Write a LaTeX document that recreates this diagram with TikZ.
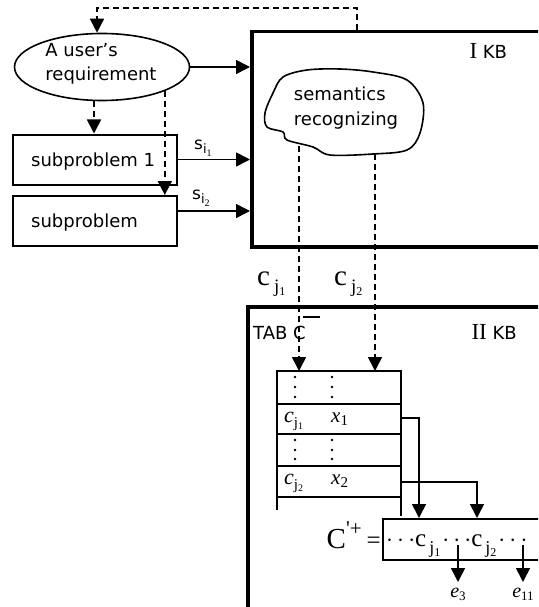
\documentclass[tikz,border=0pt]{standalone}
\usepackage{fontspec}
\setmainfont{DejaVu Sans}
\newfontfamily\tms{Liberation Serif}
\usetikzlibrary{arrows.meta,shapes.geometric}
\newcommand\fsz[1]{\fontsize{#1}{#1}\selectfont}
\newcommand\sil[1]{\fsz{17}s\raisebox{-4pt}{\fsz{13}i\raisebox{-3pt}{\tms\fsz{10}#1}}}
\newcommand\cjb[1]{{\tms\fsz{29}c}\hspace{4pt}\raisebox{-7pt}{\tms\fsz{19}j\raisebox{-3pt}{\fsz{12}#1}}}
\newcommand\cjt[1]{{\tms\fsz{22}\itshape c}\raisebox{-5pt}{\tms\fsz{15}j\raisebox{-2pt}{\fsz{10}#1}}}
\newcommand\xsub[1]{{\tms\fsz{21}\itshape x}\raisebox{-3pt}{\tms\fsz{15}#1}}
\newcommand\cjc[1]{{\tms\fsz{25}c}\hspace{3pt}\raisebox{-7pt}{\tms\fsz{18}j\raisebox{-3pt}{\fsz{12}#1}}}
\begin{document}
\begin{tikzpicture}[x=1pt,y=-1pt,font=\fsz{18},
  tip/.style={-{Triangle[length=14pt,width=14pt]}},
  arr/.style={tip,line width=1.6pt},
  dsh/.style={tip,line width=1.6pt,dash pattern=on 6pt off 4pt},
  kb/.style={draw,line width=3.5pt,inner sep=0pt,anchor=north west},
  spbox/.style={draw,line width=2pt,minimum width=164pt,minimum height=50pt,inner sep=0pt},
  dot/.style={circle,fill,inner sep=0pt,minimum size=2.8pt}]
\clip (0,0) rectangle (538,607);
\fill[white] (0,0) rectangle (538,607);

% knowledge bases
\node[kb,minimum width=320pt,minimum height=215pt] (kb1) at (250,30) {};
\node[kb,minimum width=330pt,minimum height=330pt] (kb2) at (246,305) {};
\node[anchor=base west] (kb1t) at (466,59) {{\tms\fsz{23}I} KB};
\node[anchor=base west] (kb2t) at (468,339) {{\tms\fsz{23}II} KB};

% requirement
\node[ellipse,draw,line width=1.6pt,minimum width=175pt,minimum height=67pt,inner sep=0pt] (req) at (102,67) {};
\node[align=left,inner sep=0pt,font=\fontsize{18}{24}\selectfont] (reqt) at (101,64) {A user’s\\requirement};

% subproblems
\node[spbox] (sp1) at (95,159.5) {};
\node[spbox] (sp2) at (95,221) {};
\node[anchor=base west,inner sep=0pt] (sp1t) at (31,166) {subproblem 1};
\node[anchor=base west,inner sep=0pt] (sp2t) at (31,227) {subproblem};

% cloud
\draw[line width=1.6pt] plot[smooth cycle,tension=0.55] coordinates {
 (283,77) (307,70) (340,69) (373,72) (407,80) (423,103) (420,133) (407,150)
 (373,154) (330,155) (313,147) (287,140) (283,132) (267,127) (265,113) (273,93)};
\node[align=left,inner sep=0pt,font=\fontsize{18}{25}\selectfont] (sem) at (346,108) {semantics\\recognizing};
\coordinate (cl1) at (299,146);
\coordinate (cl2) at (375,154);

% arrows to KB I
\draw[arr] (req.east) -- (req.east -| kb1.west);
\draw[arr] (sp1.east) -- (sp1.east -| kb1.west);
\draw[arr] ([yshift=10pt]sp2.east) -- ([yshift=10pt]sp2.east -| kb1.west);
\node[anchor=base west,inner sep=0pt] (s1) at (194,149) {\sil{1}};
\node[anchor=base west,inner sep=0pt] (s2) at (192,199) {\sil{2}};

% dashed arrows
\draw[dsh] (kb1.north -| 357,0) -- (357,8) -| ([xshift=-5pt]req.north);
\draw[dsh] ([xshift=-8pt]req.south) -- ([xshift=-8pt]req.south |- sp1.north);
\draw[dsh] (req.-21.6) -- (req.-21.6 |- sp2.north);

% table
\coordinate (tnw) at (277,371);
\coordinate (tne) at (401,371);
\draw[line width=1.6pt] (277,510) -- (tnw) -- (tne) -- (401,516);
\foreach \yy in {404,434,466,497} \draw[line width=1.6pt] (277,\yy) -- (401,\yy);
\foreach \xx in {295,332} {
  \foreach \yy in {377,387,397,440,450,459} \node[dot] at (\xx,\yy) {};
}
\node[anchor=base west,inner sep=0pt] (r1a) at (284,422) {\cjt{1}};
\node[anchor=base west,inner sep=0pt] (r1b) at (331,422) {\xsub{1}};
\node[anchor=base west,inner sep=0pt] (r2a) at (284,484) {\cjt{2}};
\node[anchor=base west,inner sep=0pt] (r2b) at (331,484) {\xsub{2}};

% dashed down into table
\draw[dsh] (cl1) -- (cl1 |- tnw);
\draw[dsh] (cl2) -- (cl2 |- tnw);
\node[anchor=base west,inner sep=0pt] (cj1) at (257,285) {\cjb{1}};
\node[anchor=base west,inner sep=0pt] (cj2) at (334,285) {\cjb{2}};

% TAB C
\node[anchor=base west,inner sep=0pt] (tab) at (253,339) {TAB C};
\draw[line width=1.3pt] (303,317) -- (320,317);

% C'+ box
\node[draw,line width=1.8pt,anchor=north west,minimum width=170pt,minimum height=41pt,inner sep=0pt] (cp) at (382,518) {};
\node[anchor=base east,inner sep=0pt] (cpl) at (381,548) {{\tms\fsz{29}C}\raisebox{13pt}{\tms\fsz{21}'+}\hspace{5pt}{\tms\fsz{25}=}};
\node[anchor=base west,inner sep=0pt] (cpt) at (386,546) {{\tms\fsz{25}$\cdots$}\cjc{1}\hspace{2pt}{\tms\fsz{25}$\cdots$}\cjc{2}\hspace{2pt}{\tms\fsz{25}$\cdots$}};

% connectors table -> C'+
\draw[arr] (tne |- 0,418) -- (419,418) -- (419,518);
\draw[arr] (tne |- 0,482) -- (477,482) -- (477,518);

% outputs
\coordinate (o1) at (458,545);
\coordinate (o2) at (523,545);
\draw[arr] (o1) -- (458,582);
\draw[arr] (o2) -- (523,582);
\node[anchor=base,inner sep=0pt] (e3) at (458,597) {{\tms\fsz{20}\itshape e}\raisebox{-3pt}{\tms\fsz{13}3}};
\node[anchor=base,inner sep=0pt] (e11) at (523,597) {{\tms\fsz{20}\itshape e}\raisebox{-3pt}{\tms\fsz{13}11}};
\end{tikzpicture}
\end{document}
